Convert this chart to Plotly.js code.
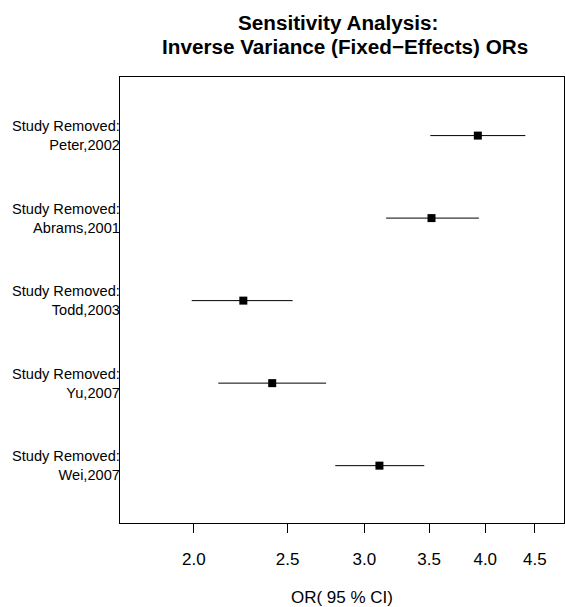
<!DOCTYPE html>
<html>
<head>
<meta charset="utf-8">
<script src="https://cdn.plot.ly/plotly-3.0.1.min.js"></script>
<style>html,body{margin:0;padding:0;background:#fff;}#chart{width:565px;height:607px;}</style>
</head>
<body>
<div id="chart"></div>
<script>
// Data (odds ratios with 95% CI, log axis)
const studies = ["Peter,2002", "Abrams,2001", "Todd,2003", "Yu,2007", "Wei,2007"];
const rowPos = [5, 4, 3, 2, 1];
const orValues = [3.93, 3.52, 2.25, 2.41, 3.11];
const ciLower = [3.51, 3.16, 1.99, 2.12, 2.80];
const ciUpper = [4.40, 3.94, 2.53, 2.74, 3.46];
const tickValues = [2.0, 2.5, 3.0, 3.5, 4.0, 4.5];
const tickLabels = ["2.0", "2.5", "3.0", "3.5", "4.0", "4.5"];
const labelPrefix = "Study Removed:";
const titleLines = ["Sensitivity Analysis:", "Inverse Variance (Fixed\u2212Effects) ORs"];

const FONT = "Liberation Sans, Arial, Helvetica, sans-serif";

const trace = {
  type: "scatter",
  mode: "markers",
  x: orValues,
  y: rowPos,
  marker: {symbol: "square", size: 8, color: "#000"},
  error_x: {
    type: "data",
    symmetric: false,
    array: orValues.map((v, i) => ciUpper[i] - v),
    arrayminus: orValues.map((v, i) => v - ciLower[i]),
    width: 0,
    thickness: 1,
    color: "#000"
  },
  hoverinfo: "skip",
  showlegend: false
};

const annotations = studies.map((s, i) => ({
  xref: "paper", yref: "y",
  x: 0, y: rowPos[i],
  xanchor: "right", yanchor: "middle",
  xshift: 2,
  align: "right",
  showarrow: false,
  text: labelPrefix + "<br>" + s,
  font: {family: FONT, size: 14.6, color: "#000"}
}));

// title lines as two centred annotations
const titleY = [1.1233, 1.0673];
const titleX = [0.49, 0.507];
titleLines.forEach((t, i) => {
  annotations.push({
    xref: "paper", yref: "paper",
    x: titleX[i], y: titleY[i],
    xanchor: "center", yanchor: "middle",
    showarrow: false,
    text: "<b>" + t + "</b>",
    font: {family: FONT, size: 20.7, color: "#000"}
  });
});

const layout = {
  width: 565, height: 607,
  margin: {l: 120, r: 1, t: 77, b: 84},
  paper_bgcolor: "#fff", plot_bgcolor: "#fff",
  font: {family: FONT, color: "#000"},
  xaxis: {
    type: "log",
    range: [Math.log10(1.678), Math.log10(4.824)],
    tickmode: "array",
    tickvals: tickValues,
    ticktext: tickLabels,
    ticks: "outside", ticklen: 9, tickwidth: 1, tickcolor: "#000",
    ticklabelstandoff: 12,
    tickfont: {family: FONT, size: 17, color: "#000"},
    showline: true, linecolor: "#000", linewidth: 1, mirror: true,
    showgrid: false, zeroline: false,
    title: {text: "OR( 95 % CI)", font: {family: FONT, size: 17, color: "#000"}, standoff: 24}
  },
  yaxis: {
    range: [0.305, 5.71],
    showticklabels: false, ticks: "",
    showline: true, linecolor: "#000", linewidth: 1, mirror: true,
    showgrid: false, zeroline: false
  },
  annotations: annotations
};

Plotly.newPlot("chart", [trace], layout, {displayModeBar: false, staticPlot: true});
</script>
</body>
</html>
